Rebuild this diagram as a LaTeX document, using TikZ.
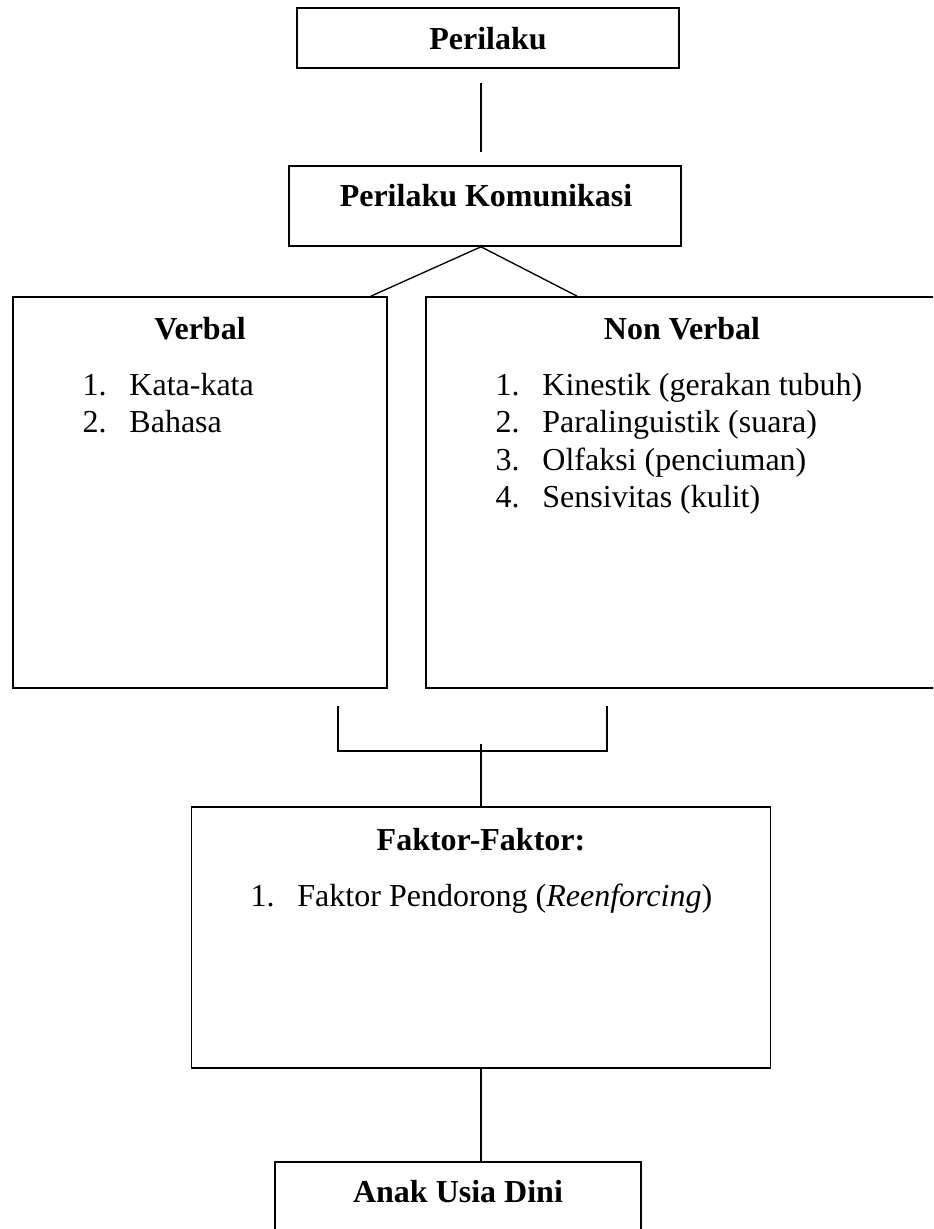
\documentclass[tikz,border=0pt]{standalone}
\usepackage{fontspec}
\setmainfont{Liberation Serif}
\usetikzlibrary{positioning}

\newcommand{\itemno}[2]{\makebox[17.6pt][l]{#1.}#2}

\begin{document}
\begin{tikzpicture}[x=0.375pt,y=-0.375pt,
box/.style={draw,line width=0.6pt,inner sep=0pt},
title/.style={anchor=base,inner sep=0pt,font=\fontsize{12}{14}\selectfont\bfseries},
entry/.style={anchor=base west,inner sep=0pt,font=\fontsize{12}{14}\selectfont},
link/.style={line width=0.5pt}]
\clip (0,0) rectangle (933,1229);
% boxes
\node[box,minimum width=143.25pt,minimum height=22.5pt] (perilaku) at (488,38) {};
\node[box,minimum width=147pt,minimum height=30pt] (komunikasi) at (485,206) {};
\node[box,minimum width=140.25pt,minimum height=146.6pt] (verbal) at (200,492.5) {};
\node[box,minimum width=192pt,minimum height=146.6pt] (nonverbal) at (682,492.5) {};
\node[box,minimum width=217.1pt,minimum height=97.9pt] (faktor) at (481,937.5) {};
\node[box,minimum width=137.25pt,minimum height=45pt] (anak) at (458,1222) {};
% titles
\node[title] (perilakuT) at (488,50) {Perilaku};
\node[title] (komunikasiT) at (486,207) {Perilaku Komunikasi};
\node[title] (verbalT) at (200,340) {Verbal};
\node[title] (nonverbalT) at (682,340) {Non Verbal};
\node[title] (faktorT) at (481,850) {Faktor-Faktor:};
\node[title] (anakT) at (458,1202) {Anak Usia Dini};
% lists
\node[entry] (verbal1) at (82,396) {\itemno{1}{Kata-kata}};
\node[entry] (verbal2) at (82,433) {\itemno{2}{Bahasa}};
\node[entry] (nonverbal1) at (495,396) {\itemno{1}{Kinestik (gerakan tubuh)}};
\node[entry] (nonverbal2) at (495,433) {\itemno{2}{Paralinguistik (suara)}};
\node[entry] (nonverbal3) at (495,470) {\itemno{3}{Olfaksi (penciuman)}};
\node[entry] (nonverbal4) at (495,507) {\itemno{4}{Sensivitas (kulit)}};
\node[entry] (faktor1) at (250,906) {\itemno{1}{Faktor Pendorong (\textit{Reenforcing})}};
% connectors
\coordinate (topA) at (481,83);
\coordinate (topB) at (481,152);
\coordinate (lefttop) at (338,706);
\coordinate (righttop) at (607,706);
\coordinate (joint) at (481,751);
\coordinate (stem) at (481,744);
\draw[link] (topA)--(topB);
\draw[link] (komunikasi.south -| faktor.north)--([xshift=-6.4pt]verbal.north east);
\draw[link] (komunikasi.south -| faktor.north)--([xshift=57pt]nonverbal.north west);
\draw[link] (lefttop) |- (joint) -| (righttop);
\draw[link] (stem)--(faktor.north);
\draw[link] (faktor.south)--(faktor.south |- anak.north);
\end{tikzpicture}
\end{document}
